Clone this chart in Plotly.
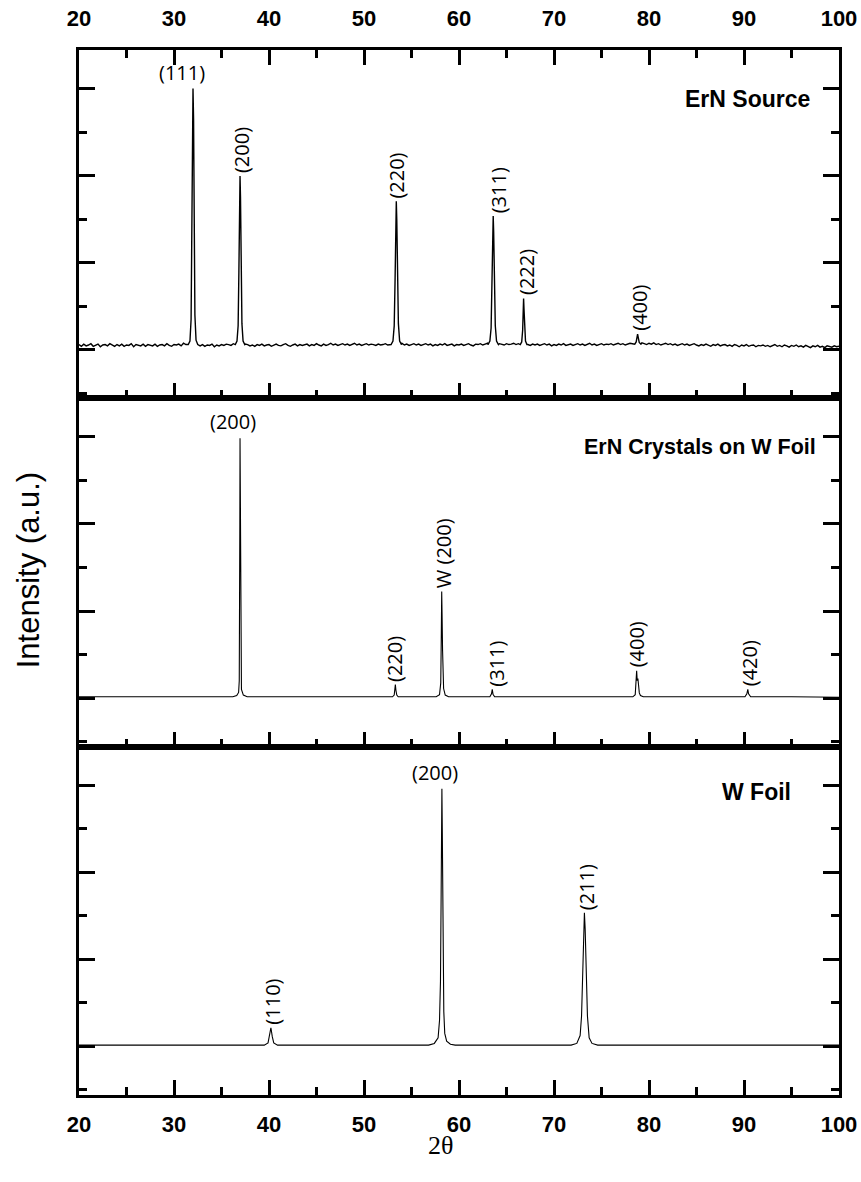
import numpy as np
import plotly.graph_objects as go

# ---------------- data ----------------
X_RANGE = [20, 100]
X_MAJOR = [20, 30, 40, 50, 60, 70, 80, 90, 100]

# ErN source: noisy baseline sampled every 0.25 deg from 20 to 100
SRC_BASE_STEP = 0.25
SRC_BASE = [
    1.12, 1.08, 1.13, 1.09, 1.11, 1.14, 1.08, 1.10, 1.13, 1.07, 1.11, 1.12, 1.09, 1.14, 1.10, 1.08,
    1.12, 1.09, 1.13, 1.08, 1.11, 1.10, 1.14, 1.07, 1.12, 1.10, 1.09, 1.13, 1.08, 1.12, 1.11, 1.09,
    1.13, 1.08, 1.11, 1.12, 1.09, 1.14, 1.10, 1.08, 1.12, 1.11, 1.13, 1.09, 1.15, 1.12, 1.14, 1.16,
    1.15, 1.13, 1.11, 1.09, 1.12, 1.08, 1.11, 1.10, 1.13, 1.07, 1.11, 1.09, 1.12, 1.10, 1.13, 1.12,
    1.10, 1.14, 1.12, 1.15, 1.16, 1.15, 1.13, 1.12, 1.09, 1.11, 1.08, 1.12, 1.10, 1.13, 1.09, 1.11,
    1.12, 1.08, 1.11, 1.13, 1.10, 1.09, 1.12, 1.14, 1.10, 1.08, 1.11, 1.13, 1.09, 1.12, 1.10, 1.11,
    1.13, 1.09, 1.12, 1.10, 1.14, 1.11, 1.09, 1.13, 1.10, 1.12, 1.15, 1.11, 1.13, 1.10, 1.12, 1.14,
    1.11, 1.13, 1.10, 1.12, 1.15, 1.11, 1.13, 1.10, 1.12, 1.14, 1.11, 1.13, 1.12, 1.10, 1.13, 1.11,
    1.12, 1.14, 1.11, 1.13, 1.16, 1.15, 1.13, 1.12, 1.15, 1.11, 1.13, 1.10, 1.12, 1.14, 1.11, 1.13,
    1.10, 1.12, 1.14, 1.11, 1.13, 1.09, 1.12, 1.10, 1.13, 1.11, 1.14, 1.10, 1.12, 1.13, 1.09, 1.12,
    1.11, 1.13, 1.10, 1.12, 1.14, 1.11, 1.09, 1.13, 1.12, 1.14, 1.11, 1.13, 1.15, 1.14, 1.16, 1.15,
    1.16, 1.14, 1.13, 1.11, 1.14, 1.12, 1.13, 1.15, 1.12, 1.14, 1.13, 1.11, 1.14, 1.12, 1.10, 1.13,
    1.11, 1.13, 1.10, 1.12, 1.14, 1.11, 1.13, 1.09, 1.12, 1.10, 1.13, 1.11, 1.14, 1.10, 1.12, 1.13,
    1.10, 1.12, 1.14, 1.11, 1.13, 1.10, 1.12, 1.15, 1.11, 1.13, 1.10, 1.12, 1.14, 1.11, 1.13, 1.12,
    1.14, 1.11, 1.13, 1.15, 1.12, 1.14, 1.11, 1.13, 1.15, 1.14, 1.12, 1.15, 1.13, 1.16, 1.14, 1.12,
    1.15, 1.13, 1.16, 1.12, 1.14, 1.11, 1.13, 1.15, 1.12, 1.14, 1.11, 1.13, 1.10, 1.12, 1.14, 1.11,
    1.13, 1.10, 1.12, 1.14, 1.11, 1.09, 1.12, 1.10, 1.13, 1.11, 1.08, 1.12, 1.10, 1.13, 1.09, 1.11,
    1.12, 1.09, 1.11, 1.08, 1.12, 1.10, 1.07, 1.11, 1.09, 1.12, 1.08, 1.10, 1.11, 1.07, 1.10, 1.09,
    1.11, 1.08, 1.10, 1.07, 1.09, 1.12, 1.08, 1.10, 1.07, 1.11, 1.09, 1.06, 1.10, 1.08, 1.11, 1.07,
    1.09, 1.06, 1.10, 1.08, 1.05, 1.09, 1.07, 1.10, 1.06, 1.08, 1.05, 1.09, 1.07, 1.06, 1.09, 1.07,
    1.08,
]

# peak profiles: label -> (2theta points, intensity points)
SRC_PEAKS = {
    "(111)": ([31.5, 31.68, 31.8, 31.87, 31.94, 32.0, 32.06, 32.13, 32.2, 32.32, 32.5],
              [1.12, 1.2, 1.7, 3.6, 6.2, 7.0, 6.3, 3.8, 1.8, 1.22, 1.12]),
    "(200)": ([36.45, 36.63, 36.75, 36.83, 36.9, 36.95, 37.0, 37.07, 37.15, 37.27, 37.45],
              [1.12, 1.2, 1.55, 2.8, 4.4, 4.99, 4.5, 3.0, 1.6, 1.2, 1.12]),
    "(220)": ([52.85, 53.05, 53.18, 53.27, 53.35, 53.4, 53.45, 53.53, 53.62, 53.75, 53.95],
              [1.12, 1.2, 1.55, 2.6, 4.0, 4.41, 4.0, 2.7, 1.6, 1.2, 1.12]),
    "(311)": ([63.05, 63.25, 63.38, 63.47, 63.55, 63.6, 63.65, 63.73, 63.82, 63.95, 64.15],
              [1.12, 1.2, 1.5, 2.5, 3.7, 4.07, 3.7, 2.5, 1.55, 1.2, 1.12]),
    "(222)": ([66.45, 66.6, 66.7, 66.76, 66.8, 66.84, 66.9, 67.0, 67.15],
              [1.12, 1.18, 1.45, 1.95, 2.18, 1.95, 1.5, 1.2, 1.12]),
    "(400)": ([78.5, 78.65, 78.75, 78.8, 78.87, 78.97, 79.15],
              [1.13, 1.18, 1.3, 1.36, 1.28, 1.17, 1.13]),
}
SRC_LABELS = [("(111)", 0, -11), ("(200)", -90, 1), ("(220)", -90, 0),
              ("(311)", -90, 5), ("(222)", -90, 3), ("(400)", -90, 2)]

# ErN crystals grown on W foil
XTL_BASE = ([20, 25, 30, 35, 45, 50, 56, 61, 70, 76, 85, 95, 100],
            [1.03, 1.03, 1.03, 1.03, 1.03, 1.03, 1.03, 1.03, 1.03, 1.03, 1.03, 1.03, 1.02])
XTL_PEAKS = {
    "(200)": ([36.2, 36.6, 36.8, 36.87, 36.91, 36.93, 36.95, 36.97, 37.0, 37.04, 37.1, 37.3, 37.7],
              [1.03, 1.06, 1.13, 1.4, 2.6, 5.0, 6.97, 5.6, 3.2, 1.6, 1.2, 1.07, 1.03]),
    "(220)": ([53.0, 53.18, 53.25, 53.3, 53.36, 53.45, 53.6],
              [1.03, 1.07, 1.2, 1.31, 1.18, 1.07, 1.03]),
    "W (200)": ([57.6, 57.95, 58.08, 58.14, 58.18, 58.22, 58.27, 58.32, 58.38, 58.55, 58.9],
                [1.03, 1.08, 1.35, 2.5, 3.45, 2.9, 2.1, 1.6, 1.22, 1.07, 1.03]),
    "(311)": ([63.25, 63.42, 63.5, 63.58, 63.75],
              [1.03, 1.1, 1.2, 1.09, 1.03]),
    "(400)": ([78.3, 78.55, 78.63, 78.7, 78.76, 78.83, 78.9, 78.98, 79.1, 79.4],
              [1.03, 1.08, 1.3, 1.63, 1.4, 1.45, 1.3, 1.12, 1.06, 1.03]),
    "(420)": ([90.1, 90.3, 90.4, 90.48, 90.7],
              [1.03, 1.1, 1.2, 1.1, 1.03]),
}
XTL_LABELS = [("(200)", 0, -7), ("(220)", -90, -1), ("W (200)", -90, 2),
              ("(311)", -90, 4), ("(400)", -90, 0), ("(420)", -90, 2)]

# bare W foil
FOIL_BASE = ([20, 28, 36, 46, 54, 64, 70, 80, 90, 100],
             [1.03, 1.03, 1.03, 1.03, 1.03, 1.03, 1.03, 1.03, 1.03, 1.03])
FOIL_PEAKS = {
    "(110)": ([39.5, 39.9, 40.05, 40.2, 40.35, 40.5, 40.9],
              [1.03, 1.08, 1.22, 1.43, 1.22, 1.08, 1.03]),
    "(200)": ([56.8, 57.4, 57.8, 57.95, 58.05, 58.12, 58.17, 58.2, 58.24, 58.28, 58.33, 58.4, 58.5, 58.7, 59.1, 59.6],
              [1.03, 1.07, 1.2, 1.6, 2.5, 4.5, 6.5, 6.92, 6.0, 4.0, 2.6, 1.8, 1.3, 1.12, 1.05, 1.03]),
    "(211)": ([71.8, 72.4, 72.75, 72.9, 73.02, 73.12, 73.2, 73.28, 73.4, 73.52, 73.7, 74.0, 74.6],
              [1.03, 1.07, 1.25, 1.7, 2.8, 3.8, 4.07, 3.7, 2.6, 1.7, 1.2, 1.07, 1.03]),
}
FOIL_LABELS = [("(110)", -90, 2), ("(200)", 0, -7), ("(211)", -90, 2)]

PANEL_TITLES = ["ErN Source", "ErN Crystals on W Foil", "W Foil"]
TITLE_X = [0.9645, 0.972, 0.939]
TITLE_Y = [6.77, 6.76, 6.85]
TITLE_SIZE = [23, 21.5, 23]


def merge(base_x, base_y, peaks):
    """Join baseline samples with the peak profiles, dropping baseline samples under peaks."""
    pts = []
    for x, y in zip(base_x, base_y):
        if not any(min(px) <= x <= max(px) for px, _ in peaks.values()):
            pts.append((x, y))
    for px, py in peaks.values():
        pts.extend(zip(px, py))
    pts.sort()
    return [p[0] for p in pts], [p[1] for p in pts]


src_x = list(np.round(X_RANGE[0] + SRC_BASE_STEP * np.arange(len(SRC_BASE)), 3))
panels = [
    (merge(src_x, SRC_BASE, SRC_PEAKS), SRC_PEAKS, SRC_LABELS, 1.4),
    (merge(*XTL_BASE, XTL_PEAKS), XTL_PEAKS, XTL_LABELS, 1.1),
    (merge(*FOIL_BASE, FOIL_PEAKS), FOIL_PEAKS, FOIL_LABELS, 1.1),
]

Y_RANGE = [-0.115, 7.885]
SANS = "Liberation Sans, Arial, sans-serif"
AXIS_FONT = dict(family=SANS, size=22, color="black", weight="bold")
PEAK_FONT = dict(family="Open Sans, Noto Sans, sans-serif", size=20, color="black")

fig = go.Figure()
annotations = []
for i, ((x, y), peaks, labels, lw) in enumerate(panels):
    sfx = "" if i == 0 else str(i + 1)
    fig.add_trace(go.Scatter(x=x, y=y, mode="lines", line=dict(color="black", width=lw),
                             xaxis="x" + sfx, yaxis="y" + sfx, showlegend=False,
                             hoverinfo="skip"))
    for name, ang, shift in labels:
        px, py = peaks[name]
        top = max(py)
        cx = px[py.index(top)]
        annotations.append(dict(
            x=cx, y=top, xref="x" + sfx, yref="y" + sfx, text=name, showarrow=False,
            textangle=ang, xanchor="center", yanchor="bottom", xshift=shift, yshift=1,
            font=PEAK_FONT))
    annotations.append(dict(
        x=TITLE_X[i], y=TITLE_Y[i], xref="paper", yref="y" + sfx, text=PANEL_TITLES[i],
        showarrow=False, xanchor="right", yanchor="middle",
        font=dict(family=SANS, size=TITLE_SIZE[i], color="black", weight="bold")))

annotations.append(dict(x=-0.066, y=0.502, xref="paper", yref="paper", text="Intensity (a.u.)",
                        textangle=-90, showarrow=False, xanchor="center", yanchor="middle",
                        font=dict(family=SANS, size=31, color="black")))
annotations.append(dict(x=0.475, y=-0.048, xref="paper", yref="paper", text="2θ",
                        showarrow=False, xanchor="center", yanchor="middle",
                        font=dict(family="Liberation Serif, Times New Roman, serif", size=26, color="black")))

xcommon = dict(range=X_RANGE, tickvals=X_MAJOR, ticks="inside", ticklen=15, tickwidth=3,
               tickcolor="black", minor=dict(dtick=5, tick0=0, ticks="inside", ticklen=8, tickwidth=2.5,
                                             tickcolor="black"),
               showline=True, linewidth=3, linecolor="black", showgrid=False, zeroline=False,
               tickfont=AXIS_FONT, automargin=False)
ycommon = dict(range=Y_RANGE, tick0=1, dtick=2, ticks="inside", ticklen=16, tickwidth=3,
               tickcolor="black", minor=dict(dtick=1, tick0=0, ticks="inside", ticklen=8, tickwidth=2.5,
                                             tickcolor="black"),
               showline=True, linewidth=3, linecolor="black", showgrid=False, zeroline=False,
               showticklabels=False, mirror="ticks", automargin=False)

third = 1.0 / 3.0
fig.update_layout(
    width=861, height=1182,
    margin=dict(l=79, r=22, t=50, b=87, autoexpand=False),
    paper_bgcolor="white", plot_bgcolor="white",
    xaxis=dict(xcommon, anchor="y", side="top", mirror="ticks", showticklabels=True,
               ticklabelstandoff=12),
    xaxis2=dict(xcommon, anchor="y2", side="bottom", mirror=True, showticklabels=False),
    xaxis3=dict(xcommon, anchor="y3", side="bottom", mirror=True, showticklabels=True,
                ticklabelstandoff=8),
    yaxis=dict(ycommon, domain=[2 * third, 1.0], anchor="x"),
    yaxis2=dict(ycommon, domain=[third, 2 * third], anchor="x2"),
    yaxis3=dict(ycommon, domain=[0.0, third], anchor="x3"),
    annotations=annotations,
)

fig.write_html("out.html")
